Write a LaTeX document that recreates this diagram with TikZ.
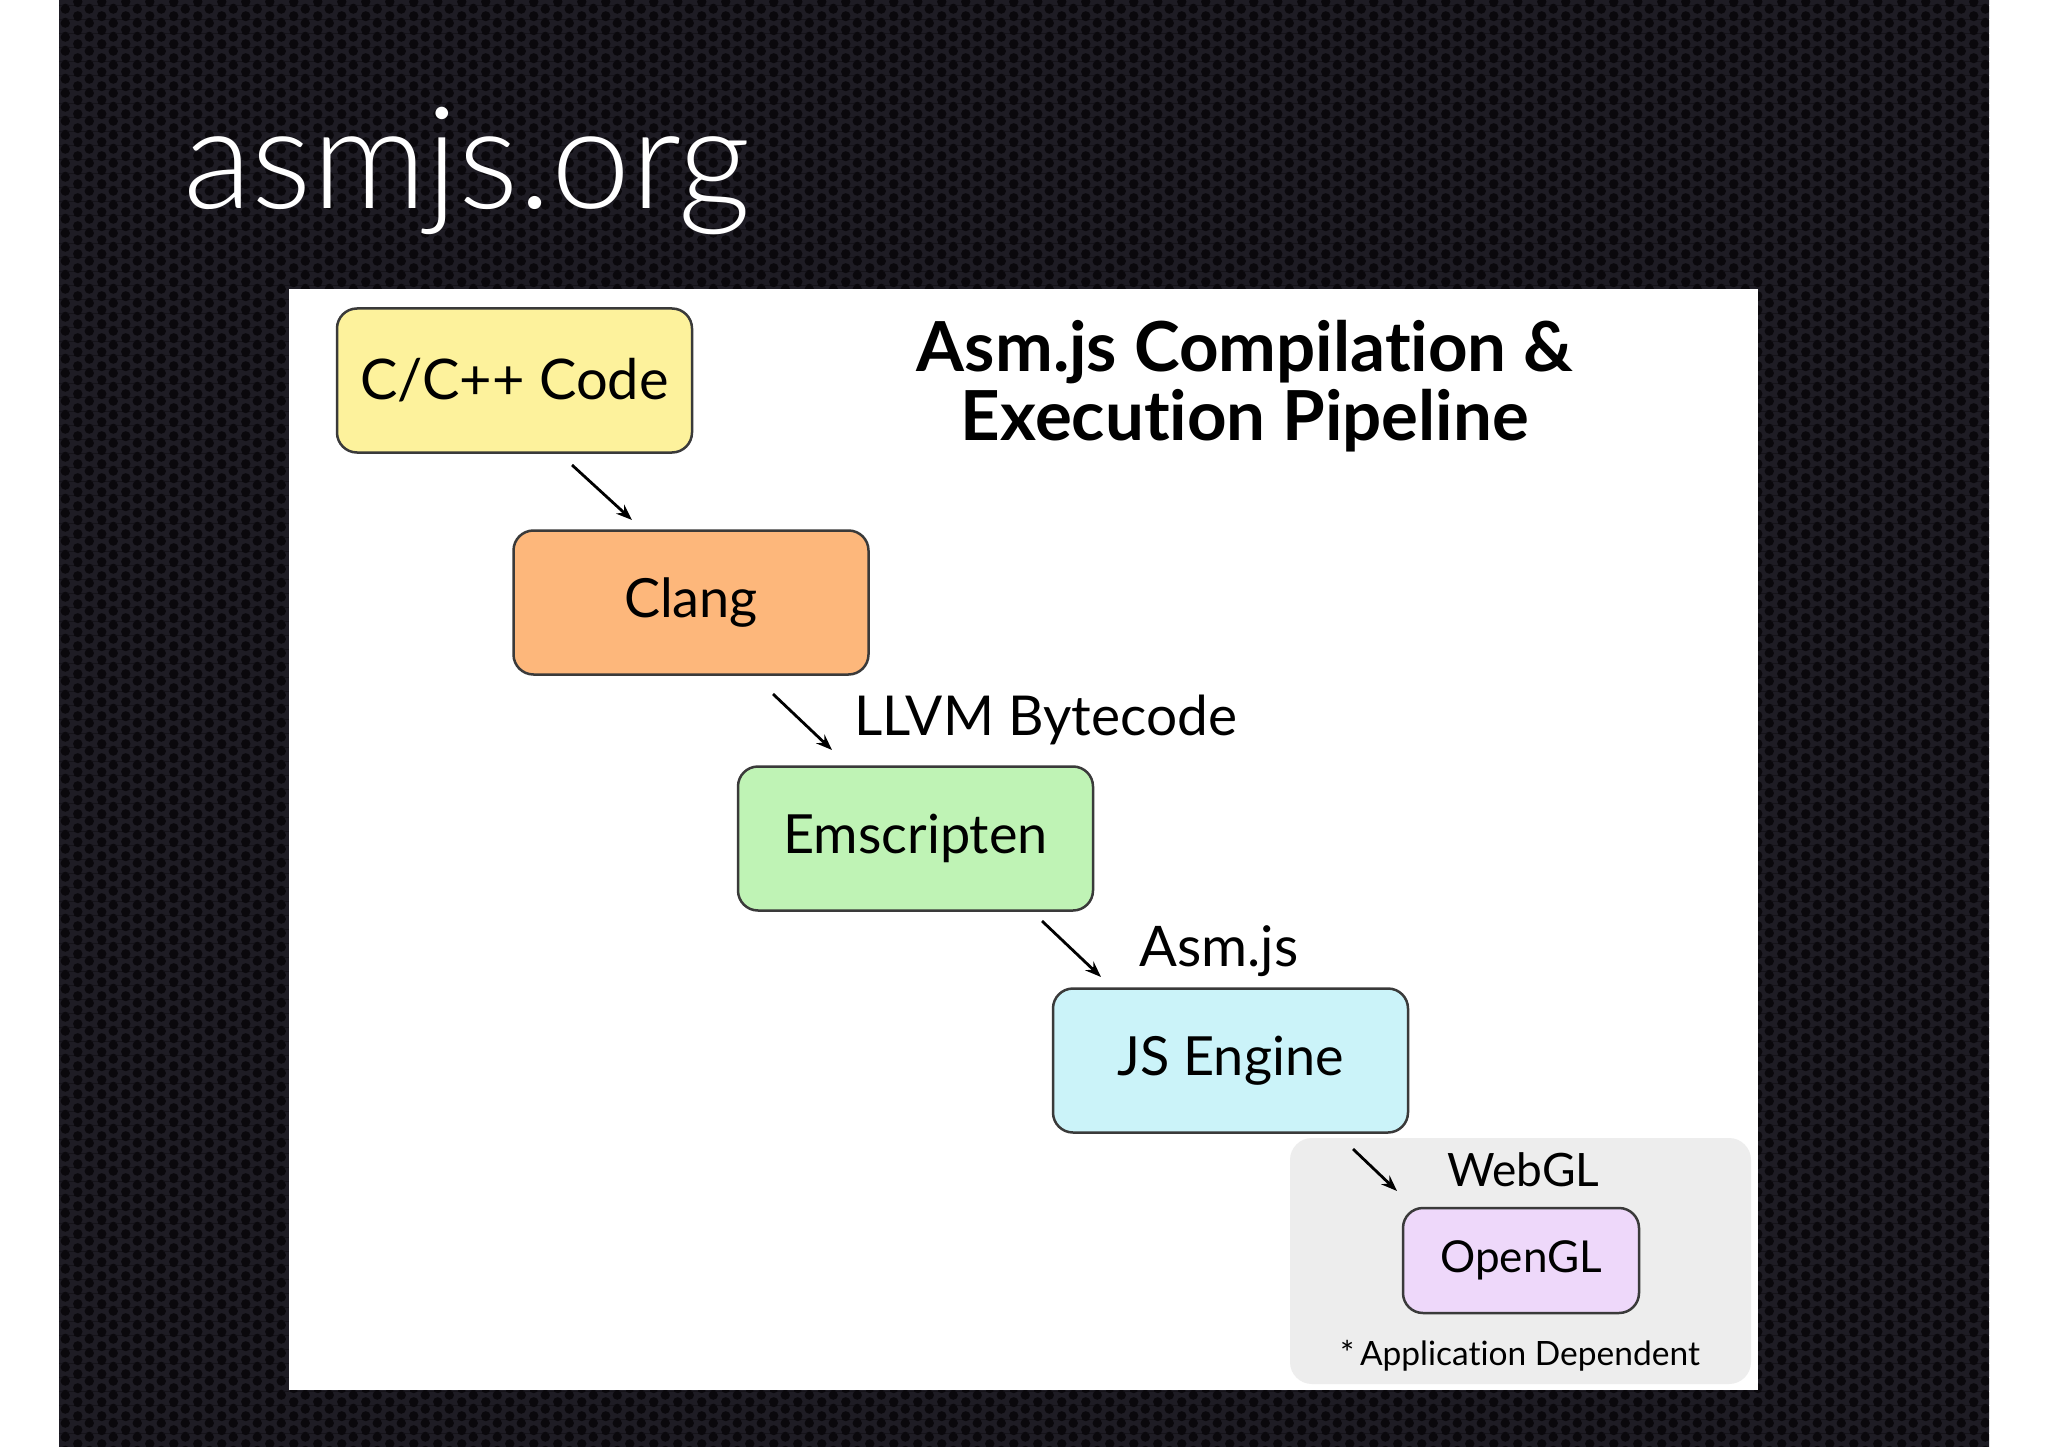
\documentclass[tikz,border=0pt]{standalone}
\usepackage{fontspec}
\setmainfont{Lato}[Ligatures=NoCommon]
\newfontfamily\titlefont{Lato}[UprightFont=* Light]
\usetikzlibrary{arrows.meta,patterns}
\definecolor{bgdark}{HTML}{141218}
\definecolor{metal}{HTML}{1E1C24}
\definecolor{hole}{HTML}{0A080C}
\definecolor{boxline}{HTML}{3A3A3A}
\definecolor{cyellow}{HTML}{FDF29C}
\definecolor{corange}{HTML}{FDB77B}
\definecolor{cgreen}{HTML}{BFF3B5}
\definecolor{ccyan}{HTML}{CBF3F9}
\definecolor{cpurple}{HTML}{EED8FA}
\definecolor{cgray}{HTML}{EDEDED}
\pgfdeclarepatterninherentlycolored{honey}{\pgfpointorigin}{\pgfpoint{24pt}{14pt}}{\pgfpoint{24pt}{14pt}}{%
  \pgfsetfillcolor{metal}%
  \pgfpathrectangle{\pgfpointorigin}{\pgfpoint{24pt}{14pt}}%
  \pgfusepath{fill}%
  \pgfsetfillcolor{hole}%
  \foreach \dx in {-24,0,24}{\foreach \dy in {-14,0,14}{%
    \pgfpathcircle{\pgfpoint{\dx pt+6pt}{\dy pt+3.5pt}}{4.9pt}%
    \pgfpathcircle{\pgfpoint{\dx pt+18pt}{\dy pt+10.5pt}}{4.9pt}%
  }}%
  \pgfusepath{fill}%
}
\tikzset{
  stagebox/.style={draw=boxline, line width=2.5pt, rounded corners=20pt,
    minimum width=355pt, minimum height=144pt, inner sep=0pt,
    font=\fontsize{54}{60}\selectfont},
  flowarrow/.style={line width=2.8pt, -{Stealth[length=16pt,width=12pt]}},
  flowlabel/.style={anchor=west, inner sep=0pt, font=\fontsize{55}{60}\selectfont}
}
\begin{document}
\begin{tikzpicture}[x=1pt,y=-1pt]
\useasboundingbox (0,0) rectangle (2048,1447);
\fill[white] (0,0) rectangle (2048,1447);
\fill[bgdark] (59,0) rectangle (1989,1447);
\fill[pattern=honey] (59,0) rectangle (1989,1447);
% title
\node[anchor=base west, inner sep=0pt, text=white, font=\titlefont\fontsize{142}{146}\selectfont] (title) at (183,209) {asmjs.org};
% panel
\fill[white] (289,289) rectangle (1758,1390);
\node[draw=none, fill=cgray, rounded corners=22pt, minimum width=461pt, minimum height=246pt] (grp) at (1520.5,1261) {};
% boxes
\node[stagebox, fill=cyellow, font=\fontsize{56}{60}\selectfont] (code) at (514.5,380.5) {C/C++ Code};
\node[stagebox, fill=corange] (clang) at (691,602.5) {Clang};
\node[stagebox, fill=cgreen] (emsc) at (915.5,838.5) {Emscripten};
\node[stagebox, fill=ccyan] (jse) at (1230.5,1060.5) {JS Engine};
\node[stagebox, fill=cpurple, minimum width=236pt, minimum height=105pt, font=\fontsize{44}{50}\selectfont] (ogl) at (1521,1260.5) {OpenGL};
% heading
\node[align=center, inner sep=0pt, font=\bfseries\fontsize{69}{69}\selectfont] (head) at (1245,386) {Asm.js Compilation \&\\Execution Pipeline};
% arrows
\coordinate (a1s) at (572,465); \coordinate (a1e) at (632,520);
\coordinate (a2s) at (773,694); \coordinate (a2e) at (832,750);
\coordinate (a3s) at (1042,921); \coordinate (a3e) at (1101,977);
\coordinate (a4s) at (1353,1149); \coordinate (a4e) at (1397,1191);
\draw[flowarrow] (a1s) -- (a1e);
\draw[flowarrow] (a2s) -- (a2e);
\draw[flowarrow] (a3s) -- (a3e);
\draw[flowarrow] (a4s) -- (a4e);
% labels
\node[flowlabel] (llvm) at (854,720) {LLVM Bytecode};
\node[flowlabel, font=\fontsize{56}{60}\selectfont] (asmjs) at (1139,951) {Asm.js};
\node[flowlabel, font=\fontsize{46}{50}\selectfont] (webgl) at (1447,1170) {WebGL};
\node[flowlabel, font=\fontsize{33.5}{40}\selectfont] (appdep) at (1340,1356) {*\,Application Dependent};
\end{tikzpicture}
\end{document}
